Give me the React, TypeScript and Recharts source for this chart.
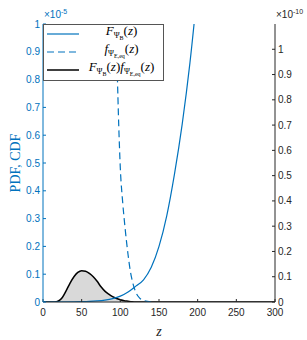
import React from "react";
import { Area, ComposedChart, Line, XAxis, YAxis } from "recharts";

// F_ΨB(z) (CDF, left axis, ×1e-5)
const cdfZ = [0, 40, 50, 60, 70, 80, 90, 100, 110, 120, 130, 140, 150, 160, 170, 180, 190, 200];
const cdfVal = [0, 0.0005, 0.001, 0.002, 0.004, 0.007, 0.012, 0.021, 0.036, 0.057, 0.08, 0.125, 0.2, 0.31, 0.46, 0.64, 0.86, 1.13];

// f_ΨE,eq(z) (PDF, left axis, ×1e-5)
const pdfZ = [85, 90, 94, 96, 98, 100, 103, 106, 110, 113, 116, 120, 125, 130, 135, 140];
const pdfVal = [2.2, 1.5, 1.05, 0.83, 0.63, 0.48, 0.36, 0.27, 0.17, 0.11, 0.07, 0.035, 0.014, 0.006, 0.002, 0];

// product (right axis, ×1e-10)
const prodZ = [0, 15, 20, 25, 30, 35, 40, 45, 50, 55, 60, 65, 70, 75, 80, 85, 90, 95, 100, 105, 110, 115, 120, 300];
const prodVal = [0, 0, 0.004, 0.018, 0.045, 0.075, 0.1, 0.117, 0.124, 0.122, 0.113, 0.1, 0.082, 0.06, 0.043, 0.031, 0.021, 0.014, 0.009, 0.005, 0.003, 0.001, 0, 0];

const xTicks = [0, 50, 100, 150, 200, 250, 300];
const leftTicks = [0, 0.1, 0.2, 0.3, 0.4, 0.5, 0.6, 0.7, 0.8, 0.9, 1];
const rightTicks = [0, 0.1, 0.2, 0.3, 0.4, 0.5, 0.6, 0.7, 0.8, 0.9, 1];

const BLUE = "#0072BD";
const DARK = "#262626";
const SERIF = "'Liberation Serif', 'DejaVu Serif', serif";
const SANS = "'Liberation Sans', Arial, sans-serif";

function buildRows() {
  const all = Array.from(new Set([...cdfZ, ...pdfZ, ...prodZ])).sort((a, b) => a - b);
  return all.map((z) => {
    const row: any = { z };
    const a = cdfZ.indexOf(z);
    if (a >= 0) row.cdf = cdfVal[a];
    const b = pdfZ.indexOf(z);
    if (b >= 0) row.pdf = pdfVal[b];
    const c = prodZ.indexOf(z);
    if (c >= 0) row.prod = prodVal[c];
    return row;
  });
}

const sub: React.CSSProperties = { fontSize: 8, fontStyle: "normal", verticalAlign: "-3px" };
const sub2: React.CSSProperties = { fontSize: 6, fontStyle: "normal", verticalAlign: "-2px" };

function FB() {
  return (
    <span>
      <i>F</i>
      <span style={sub}>
        Ψ<span style={sub2}>B</span>
      </span>
      (<i>z</i>)
    </span>
  );
}

function fE() {
  return (
    <span>
      <i>f</i>
      <span style={sub}>
        Ψ<span style={sub2}>E,eq</span>
      </span>
      (<i>z</i>)
    </span>
  );
}

function LegendBox() {
  const rows = [
    { stroke: BLUE, dash: undefined, text: <FB /> },
    { stroke: BLUE, dash: "7 4", text: fE() },
    { stroke: "#000", dash: undefined, text: <span><FB />{fE()}</span> },
  ];
  return (
    <div
      style={{
        position: "absolute",
        left: 43,
        top: 24,
        width: 119,
        height: 55,
        background: "#fff",
        border: "1px solid #555",
        fontFamily: SERIF,
        fontSize: 13,
        color: "#000",
      }}
    >
      {rows.map((r, i) => (
        <div key={i} style={{ display: "flex", alignItems: "center", height: 18 }}>
          <svg width={36} height={10} style={{ flex: "none" }}>
            <line x1={3} x2={35} y1={5} y2={5} stroke={r.stroke} strokeWidth={i === 2 ? 1.5 : 1.2} strokeDasharray={r.dash} />
          </svg>
          <div style={{ flex: 1, textAlign: "center", whiteSpace: "nowrap", lineHeight: "13px" }}>{r.text}</div>
        </div>
      ))}
    </div>
  );
}

export default function App() {
  const rows = buildRows();
  return (
    <div style={{ position: "absolute", left: 0, top: 0, width: 307, height: 340, background: "#fff" }}>
      <ComposedChart width={307} height={340} data={rows} margin={{ top: 24, right: 0, bottom: 0, left: 0 }}>
        <XAxis
          xAxisId="b"
          dataKey="z"
          type="number"
          domain={[0, 300]}
          ticks={xTicks}
          height={38}
          tickSize={-3}
          tickMargin={10}
          stroke={DARK}
          tick={{ fill: DARK, fontSize: 10, fontFamily: SANS }}
          label={{
            content: () => (
              <text x={159} y={336} textAnchor="middle" fontFamily={SERIF} fontStyle="italic" fontSize={14} fill={DARK}>
                z
              </text>
            ),
          }}
        />
        <XAxis
          xAxisId="t"
          dataKey="z"
          type="number"
          orientation="top"
          domain={[0, 300]}
          ticks={xTicks}
          height={0}
          tickSize={-3}
          tick={false}
          stroke="#999"
        />
        <YAxis
          yAxisId="l"
          type="number"
          domain={[0, 1]}
          allowDataOverflow
          ticks={leftTicks}
          width={43}
          tickSize={-3}
          tickMargin={6}
          stroke={BLUE}
          tick={{ fill: BLUE, fontSize: 10, fontFamily: SANS }}
          label={{
            content: () => (
              <text
                x={15}
                y={163}
                transform="rotate(-90 15 163)"
                textAnchor="middle"
                dominantBaseline="central"
                fontFamily={SERIF}
                fontSize={14}
                fill={BLUE}
              >
                PDF, CDF
              </text>
            ),
          }}
        />
        <YAxis
          yAxisId="r"
          orientation="right"
          type="number"
          domain={[0, 1.1]}
          allowDataOverflow
          ticks={rightTicks}
          width={32}
          tickSize={-3}
          tickMargin={6}
          stroke={DARK}
          tick={{ fill: DARK, fontSize: 10, fontFamily: SANS }}
        />
        <Area
          xAxisId="b"
          yAxisId="r"
          dataKey="prod"
          type="monotone"
          connectNulls
          stroke="#000"
          strokeWidth={1.5}
          fill="#d9d9d9"
          fillOpacity={1}
          isAnimationActive={false}
          dot={false}
        />
        <Line
          xAxisId="b"
          yAxisId="l"
          dataKey="cdf"
          type="monotone"
          connectNulls
          stroke={BLUE}
          strokeWidth={1.2}
          dot={false}
          isAnimationActive={false}
        />
        <Line
          xAxisId="b"
          yAxisId="l"
          dataKey="pdf"
          type="monotone"
          connectNulls
          stroke={BLUE}
          strokeWidth={1.2}
          strokeDasharray="7 4"
          dot={false}
          isAnimationActive={false}
        />
      </ComposedChart>
      <div style={{ position: "absolute", left: 44, top: 8, color: BLUE, fontFamily: SANS, fontSize: 10 }}>
        ×10<sup style={{ fontSize: 7 }}>-5</sup>
      </div>
      <div style={{ position: "absolute", left: 276, top: 8, color: DARK, fontFamily: SANS, fontSize: 10 }}>
        ×10<sup style={{ fontSize: 7 }}>-10</sup>
      </div>
      <LegendBox />
    </div>
  );
}
